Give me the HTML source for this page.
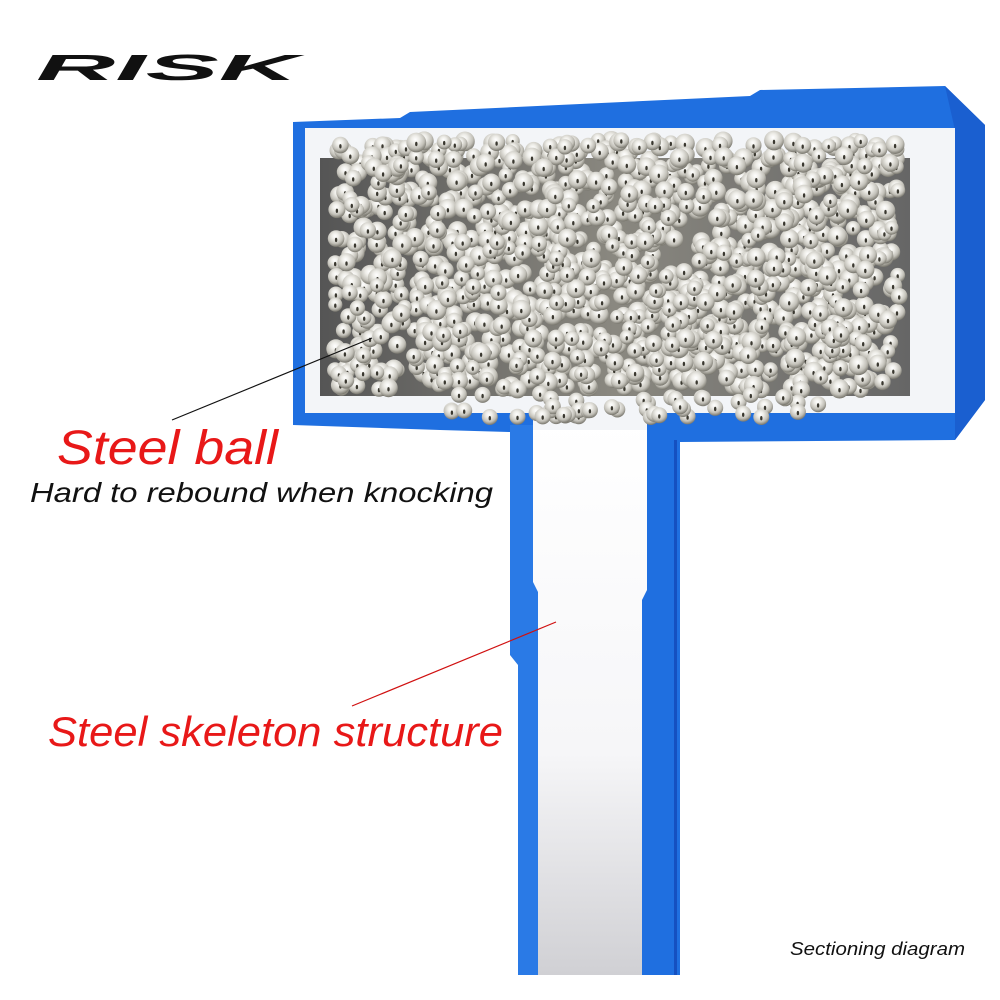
<!DOCTYPE html>
<html><head><meta charset="utf-8"><style>
html,body{margin:0;padding:0;background:#fff;width:1000px;height:1000px;overflow:hidden}
</style></head><body>
<svg id="s" width="1000" height="1000" viewBox="0 0 1000 1000" xmlns="http://www.w3.org/2000/svg">
<defs>
<radialGradient id="ball" cx="0.45" cy="0.35" r="0.65">
<stop offset="0" stop-color="#ffffff"/>
<stop offset="0.3" stop-color="#eeede8"/>
<stop offset="0.7" stop-color="#c2c0b8"/>
<stop offset="1" stop-color="#77756c"/>
</radialGradient>
<linearGradient id="cav" x1="0" y1="0" x2="1" y2="0">
<stop offset="0" stop-color="#555"/><stop offset="0.5" stop-color="#8a8880"/><stop offset="1" stop-color="#666"/>
</linearGradient>
<linearGradient id="shaft" x1="0" y1="0" x2="0" y2="1">
<stop offset="0" stop-color="#fff"/><stop offset="0.6" stop-color="#f6f6f8"/><stop offset="1" stop-color="#d0d0d4"/>
</linearGradient>
</defs>
<text x="36" y="80" font-family="Liberation Sans, sans-serif" font-weight="bold" font-style="italic" font-size="36" textLength="262" lengthAdjust="spacingAndGlyphs" fill="#111">RISK</text>
<polygon points="293,122 400,118 410,112 750,96 760,90 945,86 985,125 985,400 955,440 680,442 647,432 533,430 510,432 440,430 293,425" fill="#1f6fe0"/>
<polygon points="945,86 985,125 985,400 955,440 955,130" fill="#1a5fd0"/>
<rect x="533" y="420" width="114" height="555" fill="url(#shaft)"/>
<polygon points="510,425 533,425 533,582 538,592 538,975 518,975 518,665 510,655" fill="#2a7ae6"/>
<polygon points="647,425 680,425 680,975 642,975 642,600 647,590" fill="#1f6fe0"/>
<rect x="674" y="440" width="3" height="535" fill="#1550c0"/>
<rect x="305" y="128" width="650" height="285" fill="#f3f5f8"/>
<rect x="320" y="158" width="590" height="238" fill="url(#cav)"/>
<rect x="533" y="405" width="114" height="25" fill="#f3f5f8"/>
<g id="balls"></g>
<line x1="172" y1="420" x2="372" y2="338" stroke="#111" stroke-width="1.2"/>
<line x1="352" y1="706" x2="556" y2="622" stroke="#d01010" stroke-width="1.2"/>
<text x="57" y="464" font-family="Liberation Sans, sans-serif" font-style="italic" font-size="48" fill="#e81818" textLength="221" lengthAdjust="spacingAndGlyphs">Steel ball</text>
<text x="30" y="502" font-family="Liberation Sans, sans-serif" font-style="italic" font-size="28" fill="#111" textLength="463" lengthAdjust="spacingAndGlyphs">Hard to rebound when knocking</text>
<text x="48" y="746" font-family="Liberation Sans, sans-serif" font-style="italic" font-size="42" fill="#e81818" textLength="455" lengthAdjust="spacingAndGlyphs">Steel skeleton structure</text>
<text x="790" y="955" font-family="Liberation Sans, sans-serif" font-style="italic" font-size="18" fill="#111" textLength="175" lengthAdjust="spacingAndGlyphs">Sectioning diagram</text>
</svg>
<script>
(function(){
var g=document.getElementById('balls');
var seed=7;function r(){seed=(seed*16807)%2147483647;return seed/2147483647;}
var out='';
function b(x,y,rad){
 out+='<circle cx="'+x.toFixed(1)+'" cy="'+y.toFixed(1)+'" r="'+rad.toFixed(1)+'" fill="url(#ball)"/>';
 out+='<ellipse cx="'+(x).toFixed(1)+'" cy="'+(y+rad*0.15).toFixed(1)+'" rx="1.2" ry="2.2" fill="#3a3830"/>';
}
for(var i=0;i<1300;i++){
 var x=335+r()*565, y=140+r()*250;
 b(x,y,7+r()*3);
}
for(var j=0;j<50;j++){
 b(450+r()*370, 392+r()*25, 8);
}
g.innerHTML=out;
})();
</script>
</body></html>
